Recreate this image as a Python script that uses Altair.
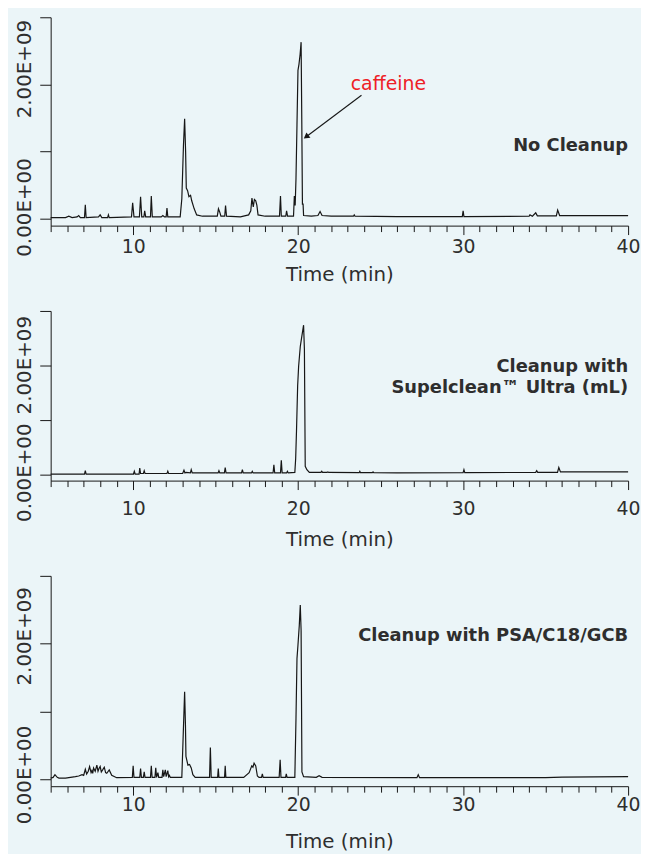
import altair as alt
import pandas as pd

# ---------------- data (intensity in units of 1e9 counts) ----------------
x_tick_values = list(range(5, 41))
x_label_values = [10, 20, 30, 40]
y_tick_values = [0, 1000000000, 2000000000, 3000000000]
y_tick_labels = ["0.00E+00", "", "2.00E+09", ""]
x_title = "Time (min)"

p1_t = [5.0, 5.9, 6.1, 6.3, 6.6, 6.7, 6.8, 7.05, 7.1, 7.15, 7.9, 8.0, 8.1, 8.45, 8.5, 8.55,
        9.9, 9.97, 10.05, 10.38, 10.45, 10.52, 10.65, 10.7, 10.76, 11.05, 11.1, 11.16,
        11.7, 11.8, 11.9, 12.0, 12.05, 12.1, 12.85, 12.95, 13.05, 13.12, 13.18, 13.22,
        13.3, 13.38, 13.48, 13.55, 13.7, 13.85, 14.2, 15.1, 15.17, 15.25, 15.32, 15.55,
        15.6, 15.66, 16.5, 17.0, 17.13, 17.2, 17.28, 17.35, 17.43, 17.5, 17.57, 18.0,
        18.87, 18.93, 18.98, 19.25, 19.3, 19.36, 19.72, 19.77, 19.82, 19.87, 19.93,
        19.99, 20.05, 20.12, 20.18, 20.22, 20.26, 20.3, 20.33, 20.8, 21.2, 21.33, 21.45,
        22.0, 23.35, 23.4, 23.45, 26.0, 29.95, 30.0, 30.05, 34.0, 34.05, 34.2, 34.4,
        34.5, 35.65, 35.73, 35.85, 40.0]
p1_v = [0.02, 0.02, 0.04, 0.02, 0.03, 0.05, 0.02, 0.02, 0.21, 0.02, 0.03, 0.06, 0.02, 0.02, 0.06, 0.02,
        0.03, 0.24, 0.03, 0.03, 0.33, 0.03, 0.03, 0.12, 0.03, 0.03, 0.34, 0.03,
        0.03, 0.05, 0.03, 0.03, 0.16, 0.03, 0.03, 0.3, 1.1, 1.49, 1.0, 0.46,
        0.42, 0.33, 0.35, 0.27, 0.15, 0.06, 0.04, 0.04, 0.15, 0.1, 0.04, 0.04,
        0.2, 0.04, 0.03, 0.06, 0.12, 0.31, 0.18, 0.29, 0.27, 0.2, 0.06, 0.04,
        0.04, 0.34, 0.04, 0.04, 0.12, 0.04, 0.04, 0.34, 0.2, 0.6, 1.4,
        2.21, 2.3, 2.45, 2.63, 1.5, 0.22, 0.22, 0.05, 0.04, 0.05, 0.11, 0.05,
        0.04, 0.04, 0.06, 0.04, 0.035, 0.035, 0.12, 0.035, 0.04, 0.06, 0.04, 0.09,
        0.045, 0.045, 0.13, 0.05, 0.05]

p2_t = [5.0, 7.05, 7.1, 7.15, 10.02, 10.07, 10.12, 10.36, 10.4, 10.45, 10.62, 10.67, 10.72,
        12.05, 12.1, 12.15, 13.0, 13.08, 13.14, 13.2, 13.47, 13.52, 13.58, 15.15, 15.2, 15.25,
        15.53, 15.58, 15.63, 16.57, 16.62, 16.67, 17.17, 17.22, 17.27, 18.48, 18.53, 18.58,
        18.93, 18.98, 19.03, 19.3, 19.35, 19.4, 19.8, 19.85, 19.9, 19.97, 20.03, 20.13,
        20.23, 20.33, 20.38, 20.43, 20.53, 20.68, 21.38, 21.43, 21.48, 21.75, 21.8, 21.85,
        23.7, 23.74, 23.78, 24.5, 24.54, 24.58, 26.0, 30.0, 30.05, 30.1, 34.4, 34.46, 34.52,
        35.72, 35.8, 35.9, 40.0]
p2_v = [0.02, 0.02, 0.08, 0.02, 0.02, 0.07, 0.02, 0.02, 0.13, 0.03, 0.03, 0.08, 0.03,
        0.03, 0.07, 0.03, 0.03, 0.09, 0.04, 0.05, 0.04, 0.1, 0.04, 0.04, 0.08, 0.04,
        0.04, 0.14, 0.04, 0.04, 0.1, 0.04, 0.04, 0.07, 0.04, 0.04, 0.19, 0.04,
        0.04, 0.27, 0.04, 0.04, 0.07, 0.04, 0.05, 0.3, 0.8, 1.63, 1.99, 2.35,
        2.55, 2.74, 2.3, 0.16, 0.1, 0.05, 0.05, 0.07, 0.05, 0.05, 0.06, 0.05,
        0.045, 0.07, 0.045, 0.045, 0.06, 0.045, 0.04, 0.045, 0.1, 0.045, 0.05, 0.08, 0.05,
        0.05, 0.14, 0.06, 0.06]

p3_t = [5.0, 5.15, 5.26, 5.4, 5.5, 5.9, 6.5, 6.7, 6.9, 7.0, 7.1, 7.18, 7.28, 7.36, 7.45, 7.5,
        7.55, 7.6, 7.7, 7.8, 7.87, 7.93, 8.0, 8.07, 8.15, 8.25, 8.33, 8.4, 8.55, 8.7, 9.0,
        9.95, 10.0, 10.05, 10.4, 10.45, 10.5, 10.62, 10.67, 10.72, 11.05, 11.1, 11.15,
        11.32, 11.37, 11.42, 11.5, 11.55, 11.75, 11.8, 11.85, 11.95, 12.0, 12.1, 12.15,
        12.2, 12.25, 12.95, 13.04, 13.12, 13.17, 13.2, 13.32, 13.42, 13.52, 13.62, 13.76,
        14.63, 14.68, 14.73, 15.12, 15.16, 15.2, 15.54, 15.58, 15.62, 16.7, 17.03, 17.19,
        17.26, 17.33, 17.43, 17.53, 17.63, 17.78, 17.83, 17.88, 18.85, 18.91, 18.96, 19.24,
        19.28, 19.33, 19.8, 19.87, 19.93, 19.99, 20.07, 20.13, 20.18, 20.23, 20.33, 21.1,
        21.27, 21.45, 27.2, 27.28, 27.36, 35.0, 36.0, 40.0]
p3_v = [0.02, 0.03, 0.07, 0.03, 0.02, 0.02, 0.04, 0.05, 0.07, 0.06, 0.15, 0.08, 0.12, 0.19, 0.1, 0.13,
        0.09, 0.17, 0.12, 0.21, 0.12, 0.16, 0.19, 0.11, 0.14, 0.18, 0.1, 0.09, 0.14, 0.06, 0.025,
        0.03, 0.2, 0.03, 0.03, 0.16, 0.03, 0.03, 0.11, 0.03, 0.03, 0.2, 0.03,
        0.03, 0.17, 0.03, 0.1, 0.03, 0.03, 0.14, 0.04, 0.14, 0.04, 0.13, 0.04,
        0.06, 0.03, 0.03, 0.7, 1.29, 0.8, 0.34, 0.21, 0.22, 0.17, 0.07, 0.03,
        0.03, 0.47, 0.03, 0.03, 0.16, 0.03, 0.03, 0.2, 0.03, 0.03, 0.1, 0.2,
        0.18, 0.24, 0.2, 0.05, 0.03, 0.03, 0.08, 0.03, 0.03, 0.29, 0.03, 0.03,
        0.08, 0.03, 0.03, 0.9, 1.78, 1.98, 2.27, 2.57, 2.2, 0.11, 0.04, 0.03,
        0.055, 0.03, 0.025, 0.07, 0.025, 0.025, 0.035, 0.04]

# panel labels (right aligned at t, v in 1e9)
p1_notes = ["No Cleanup"]
p1_note_t = [40.0]
p1_note_v = [1.09]
p2_notes = ["Cleanup with", "Supelclean\u2122 Ultra (mL)"]
p2_note_t = [40.0, 40.0]
p2_note_v = [1.98, 1.59]
p3_notes = ["Cleanup with PSA/C18/GCB"]
p3_note_t = [40.0]
p3_note_v = [2.12]

# caffeine annotation
caf_text = ["caffeine"]
caf_text_t = [25.47]
caf_text_v = [2.01]
arrow_t = [23.84, 20.53]
arrow_v = [1.84, 1.23]

# ---------------- chart ----------------
FONT = "DejaVu Sans"
INK = "#161616"
TXT = "#2e2e2e"
BG = "#ebf5f8"

def js_list(vals, quote=False):
    if quote:
        return "[" + ",".join("'" + str(v) + "'" for v in vals) + "]"
    return "[" + ",".join(str(v) for v in vals) + "]"

is_major = "indexof(" + js_list(x_label_values) + ", datum.value) >= 0"
y_label_expr = js_list(y_tick_labels, True) + "[indexof(" + js_list(y_tick_values) + ", datum.value)]"


def panel(t, v, height, x_lab_pad, x_title_pad, y_off_zero, y_off_other, notes, note_t, note_v, extra=()):
    df = pd.DataFrame({"t": t, "v": [x * 1e9 for x in v]})
    xenc = alt.X(
        "t:Q",
        scale=alt.Scale(domain=[5, 40], nice=False, zero=False),
        axis=alt.Axis(
            values=x_tick_values,
            labelExpr=is_major + " ? datum.label : ''",
            tickSize={"condition": {"test": is_major, "value": 9}, "value": 6},
            labelPadding=x_lab_pad,
            labelFontSize=19,
            labelFlush=False,
            title=x_title,
            titleFontSize=20,
            titlePadding=x_title_pad,
            grid=False,
        ),
    )
    yenc = alt.Y(
        "v:Q",
        scale=alt.Scale(domain=[-100000000, 3000000000], nice=False, zero=False),
        axis=alt.Axis(
            values=y_tick_values,
            labelExpr=y_label_expr,
            labelAngle=-90,
            labelFontSize=20,
            labelPadding=5,
            labelOffset={"condition": {"test": "datum.value == 0", "value": y_off_zero}, "value": y_off_other},
            tickSize=11,
            title=None,
            grid=False,
        ),
    )
    line = alt.Chart(df).mark_line(color=INK, strokeWidth=1.2).encode(x=xenc, y=yenc)
    ndf = pd.DataFrame({"t": note_t, "v": [x * 1e9 for x in note_v], "label": notes})
    txt = alt.Chart(ndf).mark_text(
        align="right", baseline="middle", font=FONT, fontWeight="bold", fontSize=18, color=TXT
    ).encode(x=xenc, y=yenc, text="label:N")
    layers = [line, txt]
    for make in extra:
        layers.extend(make(xenc, yenc))
    return alt.layer(*layers).properties(width=582, height=height)


def caffeine_layers(xenc, yenc):
    adf = pd.DataFrame({"t": arrow_t, "v": [x * 1e9 for x in arrow_v], "o": [0, 1]})
    arrow = alt.Chart(adf).mark_line(color=INK, strokeWidth=1.1).encode(x=xenc, y=yenc, order="o:Q")
    head = alt.Chart(adf.iloc[[1]]).mark_point(
        shape="triangle", filled=True, size=45, angle=233, color=INK, opacity=1
    ).encode(x=xenc, y=yenc)
    cdf = pd.DataFrame({"t": caf_text_t, "v": [x * 1e9 for x in caf_text_v], "label": caf_text})
    ctext = alt.Chart(cdf).mark_text(
        align="center", baseline="middle", font=FONT, fontSize=19, color="#ee2026"
    ).encode(x=xenc, y=yenc, text="label:N")
    return [arrow, head, ctext]


c1 = panel(p1_t, p1_v, 210, 3, 8, -12, -16, p1_notes, p1_note_t, p1_note_v, extra=(caffeine_layers,))
c2 = panel(p2_t, p2_v, 171, 10, 11, -3, -1, p2_notes, p2_note_t, p2_note_v)
c3 = panel(p3_t, p3_v, 212, 0, 18, -5, -8, p3_notes, p3_note_t, p3_note_v)

chart = (
    alt.vconcat(c1, c2, c3, spacing=26)
    .properties(padding={"left": 6, "top": 5, "right": 0, "bottom": 0})
    .configure(background=BG, font=FONT)
    .configure_view(stroke=None)
    .configure_axis(
        domainColor=INK,
        tickColor=INK,
        domainWidth=1,
        tickWidth=1,
        labelColor=TXT,
        titleColor=TXT,
        labelFont=FONT,
        titleFont=FONT,
        titleFontWeight="normal",
    )
)

chart.save("out.html", embed_options={"renderer": "svg", "actions": False})
